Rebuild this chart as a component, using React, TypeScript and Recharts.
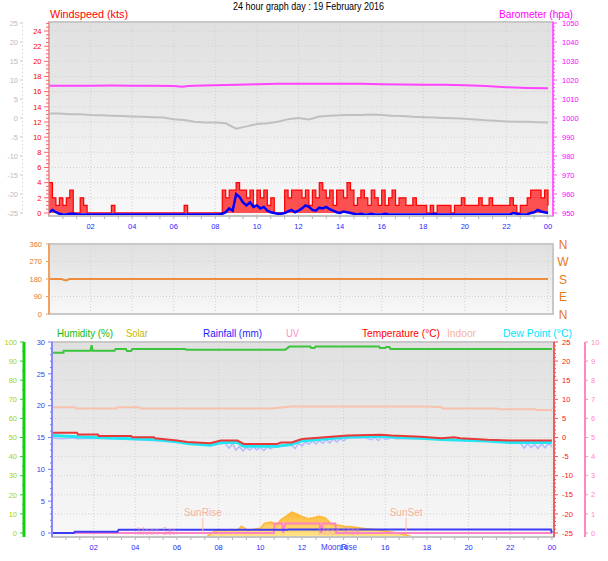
import React from 'react';
import {
	ComposedChart,
	Line,
	Area,
	XAxis,
	YAxis,
	CartesianGrid,
	ReferenceLine,
	ReferenceArea,
} from 'recharts';

const FONT = '"Liberation Sans", Arial, sans-serif';

// hour labels on the time axis (24 is shown as "00")
const HOUR_LABELS = [2, 4, 6, 8, 10, 12, 14, 16, 18, 20, 22, 24];

// ---------- panel 1: windspeed (kts) + barometer (hpa) ----------
// six 10-minute readings per hour, 00:00 .. 23:50
const GUST = [
	[4, 2, 1, 2, 1, 2],
	[3, 0, 0, 2, 1, 0],
	[0, 0, 0, 0, 0, 0],
	[1, 0, 0, 0, 0, 0],
	[0, 0, 0, 0, 0, 0],
	[0, 0, 0, 0, 0, 0],
	[0, 0, 0, 1, 0, 0],
	[0, 0, 0, 0, 0, 0],
	[0, 0, 3, 2, 3, 3],
	[4, 3, 3, 2, 3, 1],
	[3, 2, 3, 1, 2, 0],
	[0, 0, 3, 2, 3, 3],
	[3, 2, 3, 1, 3, 2],
	[4, 3, 2, 3, 1, 3],
	[3, 2, 4, 3, 1, 2],
	[3, 2, 1, 3, 2, 1],
	[3, 1, 2, 3, 1, 2],
	[2, 1, 1, 2, 1, 1],
	[1, 0, 1, 0, 1, 1],
	[1, 1, 0, 1, 1, 2],
	[1, 1, 1, 1, 2, 1],
	[1, 2, 1, 1, 1, 1],
	[1, 2, 1, 0, 1, 1],
	[2, 3, 3, 3, 2, 3],
];
const GUST_LAST = 1;

const WIND_AVG = [
	[0.3, 0.6, 0.3, 0.1, 0, 0],
	[0.1, 0.1, 0, 0, 0, 0],
	[0, 0, 0, 0, 0, 0],
	[0, 0, 0, 0, 0, 0],
	[0, 0, 0, 0, 0, 0],
	[0, 0, 0, 0, 0, 0],
	[0, 0, 0, 0, 0, 0],
	[0, 0, 0, 0, 0, 0],
	[0, 0, 0.1, 0.3, 0.8, 0.5],
	[2.7, 2.3, 1.6, 1.2, 1.6, 1.0],
	[1.2, 0.8, 1.0, 0.5, 0.3, 0.2],
	[0.1, 0.1, 0.2, 0.4, 0.6, 0.3],
	[0.5, 0.8, 1.2, 1.0, 0.6, 0.5],
	[0.9, 0.8, 1.0, 0.7, 0.5, 0.3],
	[0.2, 0.4, 0.3, 0.2, 0.1, 0],
	[0.1, 0, 0, 0.1, 0, 0],
	[0, 0.1, 0, 0, 0, 0],
	[0, 0, 0, 0, 0, 0],
	[0, 0, 0, 0.1, 0, 0],
	[0, 0, 0, 0, 0, 0],
	[0, 0, 0, 0, 0, 0],
	[0, 0, 0, 0, 0, 0],
	[0, 0, 0.2, 0.1, 0, 0],
	[0, 0.2, 0.3, 0.6, 0.4, 0.3],
];
const WIND_AVG_LAST = 0.2;

const BARO_T = [0, 1, 2, 3, 4, 5, 6, 6.4, 6.7, 7, 8, 9, 10, 11, 12, 13, 14, 15, 16, 17, 18, 19, 20, 21, 22, 23, 24];
const BARO = [1017, 1017, 1017, 1017.1, 1017, 1017, 1016.9, 1016.5, 1016.9, 1017, 1017.2, 1017.5, 1017.8, 1018, 1018, 1018, 1018, 1018, 1017.8, 1017.6, 1017.5, 1017.5, 1017.3, 1016.8, 1016.2, 1015.8, 1015.6];

// grey trace on the grey left scale, half-hourly
const TREND = [
	1.2, 1.2, 1.0, 1.0, 0.8, 0.7, 0.6, 0.5, 0.4, 0.3, 0.2, 0.1,
	-0.3, -0.5, -1.0, -1.2, -1.2, -1.4, -2.8, -2.2, -1.6, -1.4, -1.0, -0.3,
	0.0, -0.4, 0.4, 0.6, 0.7, 0.8, 0.8, 0.9, 0.8, 0.6, 0.5, 0.3,
	0.2, 0.1, 0.0, -0.1, -0.2, -0.4, -0.6, -0.7, -0.9, -1.0, -1.0, -1.1, -1.2,
];

// ---------- panel 2: wind direction ----------
const DIR_T = [0, 0.6, 0.8, 1.0, 24];
const DIR = [180, 180, 172, 180, 180];

// ---------- panel 3: humidity, rain, uv, solar, temperatures ----------
const HUM_T = [0, 0.55, 0.56, 1.85, 1.9, 1.95, 3.0, 3.05, 3.55, 3.6, 3.8, 3.85, 6.4, 6.45, 11.2, 11.4, 12.4, 12.45, 12.6, 12.65, 15.7, 15.75, 16.0, 16.05, 16.2, 16.25, 24];
const HUM = [94.4, 94.4, 95.4, 95.4, 98.4, 95.4, 95.4, 96.3, 96.3, 95.3, 95.3, 96.3, 96.3, 96.0, 96.0, 97.6, 97.6, 96.8, 96.8, 97.6, 97.6, 96.8, 96.8, 97.4, 97.4, 96.3, 96.3];

const TEMP_T = [0, 1.2, 1.25, 2.2, 2.25, 3.8, 3.85, 4.9, 4.95, 6.0, 6.5, 7.6, 8.1, 8.9, 9.2, 10.8, 11.0, 11.5, 12.0, 13.1, 14.2, 15.8, 16.3, 17.7, 18.7, 19.3, 19.6, 20.9, 22.0, 24];
const TEMP = [1.25, 1.25, 0.8, 0.8, 0.4, 0.4, 0.05, 0.05, -0.2, -0.8, -1.2, -1.5, -0.8, -0.8, -1.7, -1.7, -1.3, -1.3, -0.4, 0.05, 0.5, 0.7, 0.5, 0.2, -0.2, 0.05, -0.2, -0.6, -0.8, -0.8];

const DEW_T = [0, 1.2, 2.2, 3.8, 4.9, 6.0, 6.5, 7.6, 8.1, 8.9, 9.2, 10.8, 11.5, 12.0, 13.1, 14.2, 15.8, 16.3, 17.7, 18.7, 20.9, 22.0, 24];
const DEW = [0.5, 0.2, 0.0, -0.3, -0.5, -1.1, -1.6, -2.0, -1.3, -1.3, -2.3, -2.3, -1.8, -0.9, -0.4, 0.1, 0.3, 0.1, -0.2, -0.5, -0.9, -1.3, -1.3];

const CHILL_T = [
	0, 0.5, 1.0, 1.2, 2, 4, 6, 7.6, 8.3, 8.5, 8.67, 8.83, 9.0, 9.17, 9.33, 9.5, 9.67, 9.83,
	10.0, 10.17, 10.33, 10.5, 10.67, 10.83, 11.0, 11.5, 11.67, 11.83, 12.0, 12.17, 12.33, 12.5, 12.67, 12.83,
	13.0, 13.17, 13.33, 13.5, 13.67, 13.83, 14.0, 14.2, 15.0, 15.33, 15.5, 15.67, 15.83, 16.0, 16.33, 16.5,
	17.7, 20.9, 22.0, 22.5, 22.67, 22.83, 23.0, 23.17, 23.33, 23.5, 23.67, 23.83, 24,
];
const CHILL = [
	-0.1, -0.3, -0.1, -0.3, -0.2, -0.5, -1.2, -2.1, -1.5, -2.8, -1.6, -3.3, -2.4, -3.5, -2.6, -3.3, -2.5, -3.2,
	-2.6, -3.4, -2.5, -3.0, -2.4, -2.5, -2.2, -2.0, -2.9, -1.5, -2.2, -1.2, -1.8, -0.9, -1.7, -0.8,
	-1.5, -0.6, -1.4, -0.4, -1.2, -0.3, -0.9, -0.1, 0.0, -0.6, 0.0, -0.8, 0.1, -0.5, -0.1, -0.3,
	-0.3, -1.0, -1.4, -1.6, -2.8, -1.6, -2.6, -1.8, -2.9, -1.7, -2.7, -1.6, -2.4,
];

const INDOOR_T = [0, 1.1, 1.15, 3.1, 3.15, 4.2, 4.25, 10.5, 11.5, 17.7, 18.7, 18.75, 21.4, 21.45, 23.2, 23.25, 24];
const INDOOR = [7.9, 7.9, 7.6, 7.6, 7.9, 7.9, 7.6, 7.6, 8.1, 8.1, 8.0, 7.6, 7.6, 7.4, 7.4, 7.2, 7.2];

const RAIN_T = [0, 1.05, 1.1, 3.15, 3.2, 11.3, 11.35, 23.95, 24];
const RAIN = [0, 0, 0.2, 0.2, 0.5, 0.5, 0.55, 0.55, 0];

const UV_T = [0, 10.65, 10.7, 11.05, 11.1, 11.2, 12.85, 12.9, 13.0, 13.6, 13.65, 24];
const UV = [0, 0, 0.5, 0.5, 0, 0.5, 0.5, 0, 0.5, 0.5, 0, 0];

const SOLAR_T = [0, 7.4, 7.6, 7.8, 8.0, 8.3, 8.6, 8.9, 9.1, 9.4, 9.7, 10.0, 10.2, 10.5, 10.8, 11.0, 11.3, 11.5, 11.7, 12.0, 12.3, 12.6, 12.8, 13.1, 13.4, 13.7, 14.0, 14.4, 14.7, 15.1, 15.5, 15.9, 16.3, 16.7, 17.0, 17.3, 24];
const SOLAR = [0, 0, 15, 30, 36, 33, 38, 35, 55, 34, 40, 45, 69, 77, 65, 90, 111, 128, 120, 106, 94, 100, 106, 99, 69, 62, 55, 52, 48, 42, 38, 32, 26, 18, 10, 0, 0];

const SUNRISE = 7.24;
const SUNSET = 17.0;

// ---------- helpers ----------
const zip = (ts: number[], vs: number[]) => ts.map((t, i) => ({ t, v: vs[i] }));
const steps = (from: number, to: number, step: number) => {
	const out: number[] = [];
	const n = Math.round((to - from) / step);
	for (let i = 0; i <= n; i++) out.push(Math.round((from + i * step) * 1000) / 1000);
	return out;
};
const X_TICKS = Array.from({ length: 36 }, (_, k) => ((k + 1) * 2) / 3);

const windData = GUST.flatMap((row, h) =>
	row.map((g, i) => ({ t: h + i / 6, gust: g, avg: WIND_AVG[h][i] }))
).concat([{ t: 24, gust: GUST_LAST, avg: WIND_AVG_LAST }]);
const baroData = zip(BARO_T, BARO);
const trendData = TREND.map((v, i) => ({ t: i / 2, v }));

const xTick = (p: any) => {
	const v = p.payload.value;
	const r = Math.round(v);
	const lab = Math.abs(v - r) < 1e-6 && r % 2 === 0;
	return (
		<g>
			<line x1={p.x} x2={p.x} y1={p.y} y2={p.y + 3} stroke="#b4b4b4" />
			{lab && (
				<text x={p.x} y={p.y + 13} textAnchor="middle" fontSize={7.5} fill="#2828ff" fontFamily={FONT}>
					{String(r % 24).padStart(2, '0')}
				</text>
			)}
		</g>
	);
};

function yTick(axisX: number, side: 'left' | 'right', every: number, color: string, tickColor: string, len = 4, gap = 3) {
	return (p: any) => {
		const v = p.payload.value;
		const major = Math.abs(v / every - Math.round(v / every)) < 1e-6;
		const d = side === 'left' ? -1 : 1;
		return (
			<g>
				<line x1={axisX} x2={axisX + d * (major ? len : len - 2)} y1={p.y} y2={p.y} stroke={tickColor} />
				{major && (
					<text
						x={axisX + d * (len + gap)}
						y={p.y}
						dy={2.7}
						textAnchor={side === 'left' ? 'end' : 'start'}
						fontSize={7.5}
						fill={color}
						fontFamily={FONT}
					>
						{v}
					</text>
				)}
			</g>
		);
	};
}

const GRID = '#d2d2d2';

// axis ids: recharts stacks same-side axes in id order, "a_" sits next to the plot
function WindPanel() {
	return (
		<ComposedChart width={608} height={232} data={windData} margin={{ top: 22, right: 0, bottom: 2, left: 0 }}>
			<CartesianGrid
				yAxisId="a_wind"
				fill="url(#bgTop)"
				stroke={GRID}
				strokeDasharray="1 2"
				horizontalValues={steps(2, 24, 2)}
				verticalValues={HOUR_LABELS}
			/>
			<XAxis
				dataKey="t"
				type="number"
				domain={[0, 24.24]}
				allowDataOverflow
				ticks={X_TICKS}
				interval={0}
				tick={xTick}
				tickLine={false}
				tickSize={0}
				tickMargin={0}
				height={14}
				axisLine={{ stroke: '#c4c4c4', strokeWidth: 2 }}
			/>
			<YAxis
				yAxisId="a_wind"
				type="number"
				domain={[-0.4, 25.19]}
				allowDataOverflow
				ticks={steps(0, 25, 0.5)}
				interval={0}
				width={26}
				tickLine={false}
				tickSize={0}
				tickMargin={0}
				tick={yTick(49, 'left', 2, '#ff0000', '#ff6060', 5, 2.5)}
				axisLine={{ stroke: '#ff8080', strokeWidth: 1 }}
			/>
			<YAxis
				yAxisId="b_grey"
				type="number"
				domain={[-25.79, 25.26]}
				allowDataOverflow
				ticks={steps(-25, 25, 1)}
				interval={0}
				width={23}
				tickLine={false}
				tickSize={0}
				tickMargin={0}
				tick={yTick(23, 'left', 5, '#bcbcbc', '#c4c4c4', 3, 2)}
				axisLine={{ stroke: '#c4c4c4', strokeWidth: 3 }}
			/>
			<YAxis
				yAxisId="a_baro"
				orientation="right"
				type="number"
				domain={[948.42, 1050.53]}
				allowDataOverflow
				ticks={steps(950, 1050, 2)}
				interval={0}
				width={55}
				tickLine={false}
				tickSize={0}
				tickMargin={0}
				tick={yTick(553, 'right', 10, '#ff00ff', '#ff50ff', 4, 5)}
				axisLine={{ stroke: '#ff60ff', strokeWidth: 2 }}
			/>
			<YAxis yAxisId="avg" hide type="number" domain={[-0.2, 25.39]} allowDataOverflow />
			<ReferenceArea yAxisId="a_wind" x1={0} x2={24.24} y1={-0.4} y2={25.19} fill="none" stroke="#c8c8c8" strokeWidth={2} />
			<Area
				yAxisId="a_wind"
				dataKey="gust"
				type="stepAfter"
				stroke="#ff0000"
				strokeWidth={1.2}
				fill="#ff0000"
				fillOpacity={0.68}
				isAnimationActive={false}
				dot={false}
				activeDot={false}
			/>
			<Line yAxisId="b_grey" data={trendData} dataKey="v" type="linear" stroke="#c0c0c0" strokeWidth={2} dot={false} activeDot={false} isAnimationActive={false} />
			<Line yAxisId="a_baro" data={baroData} dataKey="v" type="linear" stroke="#ff44ff" strokeWidth={2} dot={false} activeDot={false} isAnimationActive={false} />
			<Line yAxisId="avg" dataKey="avg" type="linear" stroke="#0000ff" strokeWidth={2.5} dot={false} activeDot={false} isAnimationActive={false} />
		</ComposedChart>
	);
}

function DirectionPanel() {
	return (
		<ComposedChart width={608} height={84} margin={{ top: 8, right: 55, bottom: 6, left: 0 }}>
			<CartesianGrid
				fill="url(#bgMid)"
				stroke={GRID}
				strokeDasharray="1 2"
				horizontalValues={[90, 180, 270]}
				verticalValues={HOUR_LABELS}
			/>
			<XAxis dataKey="t" type="number" domain={[0, 24.24]} allowDataOverflow hide />
			<YAxis
				type="number"
				domain={[0, 360]}
				allowDataOverflow
				ticks={steps(0, 360, 15)}
				interval={0}
				width={49}
				tickLine={false}
				tickSize={0}
				tickMargin={0}
				tick={yTick(49, 'left', 90, '#e07828', '#f0a060', 3, 4)}
				axisLine={{ stroke: '#f0a060', strokeWidth: 2 }}
			/>
			<ReferenceArea x1={0} x2={24.24} y1={0} y2={360} fill="none" stroke="#c8c8c8" strokeWidth={2} />
			<Line data={zip(DIR_T, DIR)} dataKey="v" type="linear" stroke="#ec8c3c" strokeWidth={2} dot={false} activeDot={false} isAnimationActive={false} />
		</ComposedChart>
	);
}

function WeatherPanel() {
	const line = (id: string, ts: number[], vs: number[], color: string, w: number) => (
		<Line
			yAxisId={id}
			data={zip(ts, vs)}
			dataKey="v"
			type="linear"
			stroke={color}
			strokeWidth={w}
			dot={false}
			activeDot={false}
			isAnimationActive={false}
		/>
	);
	return (
		<ComposedChart width={608} height={241} margin={{ top: 22, right: 0, bottom: 10, left: 0 }}>
			<CartesianGrid
				yAxisId="b_hum"
				fill="url(#bgBot)"
				stroke={GRID}
				strokeDasharray="1 2"
				horizontalValues={steps(10, 90, 10)}
				verticalValues={HOUR_LABELS}
			/>
			<XAxis
				dataKey="t"
				type="number"
				domain={[0, 24.1]}
				allowDataOverflow
				ticks={X_TICKS}
				interval={0}
				tick={xTick}
				tickLine={false}
				tickSize={0}
				tickMargin={0}
				height={14}
				axisLine={{ stroke: '#c4c4c4', strokeWidth: 2 }}
			/>
			<YAxis
				yAxisId="a_rain"
				type="number"
				domain={[-0.63, 30]}
				allowDataOverflow
				ticks={steps(0, 30, 1)}
				interval={0}
				width={28}
				tickLine={false}
				tickSize={0}
				tickMargin={0}
				tick={yTick(52, 'left', 5, '#4040e0', '#7878ff', 4, 3)}
				axisLine={{ stroke: '#8888ff', strokeWidth: 2 }}
			/>
			<YAxis
				yAxisId="b_hum"
				type="number"
				domain={[-2.09, 100]}
				allowDataOverflow
				ticks={steps(0, 100, 5)}
				interval={0}
				width={24}
				tickLine={false}
				tickSize={0}
				tickMargin={0}
				tick={yTick(24, 'left', 10, '#a8d400', '#20d020', 4, 3)}
				axisLine={{ stroke: '#10d010', strokeWidth: 3 }}
			/>
			<YAxis
				yAxisId="a_temp"
				orientation="right"
				type="number"
				domain={[-26.05, 25]}
				allowDataOverflow
				ticks={steps(-25, 25, 1)}
				interval={0}
				width={31}
				tickLine={false}
				tickSize={0}
				tickMargin={0}
				tick={yTick(554, 'right', 5, '#ff1010', '#f05050', 4, 4)}
				axisLine={{ stroke: '#f06060', strokeWidth: 2 }}
			/>
			<YAxis
				yAxisId="b_uv"
				orientation="right"
				type="number"
				domain={[-0.21, 10]}
				allowDataOverflow
				ticks={steps(0, 10, 0.5)}
				interval={0}
				width={23}
				tickLine={false}
				tickSize={0}
				tickMargin={0}
				tick={yTick(585, 'right', 1, '#ff88c4', '#ff88c4', 3, 3)}
				axisLine={{ stroke: '#ff88c4', strokeWidth: 2 }}
			/>
			<YAxis yAxisId="solar" hide type="number" domain={[0, 1000]} allowDataOverflow />
			<ReferenceArea yAxisId="a_rain" x1={0} x2={24.1} y1={-0.63} y2={30} fill="none" stroke="#c8c8c8" strokeWidth={2} />
			<Area
				yAxisId="solar"
				data={zip(SOLAR_T, SOLAR)}
				dataKey="v"
				type="linear"
				stroke="#ffb838"
				strokeWidth={1.5}
				fill="url(#solarFill)"
				fillOpacity={1}
				dot={false}
				activeDot={false}
				isAnimationActive={false}
			/>
			{line('a_temp', CHILL_T, CHILL, '#b4baff', 1.5)}
			{line('b_hum', HUM_T, HUM, '#3cc43c', 2)}
			{line('a_temp', INDOOR_T, INDOOR, '#f8c2ac', 2)}
			{line('a_temp', DEW_T, DEW, '#22e6f4', 3)}
			{line('a_temp', TEMP_T, TEMP, '#e83838', 2)}
			{line('b_uv', UV_T, UV, '#ff84c4', 2)}
			{line('a_rain', RAIN_T, RAIN, '#3c3cf4', 2)}
			<ReferenceLine
				yAxisId="a_rain"
				segment={[{ x: SUNRISE, y: 0 }, { x: SUNRISE, y: 2.4 }]}
				stroke="#f8c0a8"
				label={{ value: 'SunRise', position: 'top', offset: 2, fill: '#f6b49c', fontSize: 10, fontFamily: FONT }}
			/>
			<ReferenceLine
				yAxisId="a_rain"
				segment={[{ x: SUNSET, y: 0 }, { x: SUNSET, y: 2.4 }]}
				stroke="#f8c0a8"
				label={{ value: 'SunSet', position: 'top', offset: 2, fill: '#f6b49c', fontSize: 10, fontFamily: FONT }}
			/>
		</ComposedChart>
	);
}

const Txt = ({ x, y, w, c, s = 11, children }: any) => (
	<text x={x} y={y} fill={c} fontSize={s} fontFamily={FONT} textLength={w} lengthAdjust="spacingAndGlyphs">
		{children}
	</text>
);

export default function App() {
	const band = (id: string) => (
		<linearGradient id={id} x1="0" y1="0" x2="0" y2="1">
			<stop offset="0%" stopColor="#e0e0e0" />
			<stop offset="35%" stopColor="#e7e7e7" />
			<stop offset="65%" stopColor="#f0f0f0" />
			<stop offset="100%" stopColor="#f8f8f8" />
		</linearGradient>
	);
	return (
		<div style={{ position: 'absolute', left: 0, top: 0, width: 608, height: 561, background: '#fff', overflow: 'hidden' }}>
			<svg width={0} height={0} style={{ position: 'absolute' }}>
				<defs>
					{band('bgTop')}
					{band('bgMid')}
					{band('bgBot')}
					<linearGradient id="solarFill" x1="0" y1="0" x2="0" y2="1">
						<stop offset="0%" stopColor="#ffb532" />
						<stop offset="100%" stopColor="#ffe68c" />
					</linearGradient>
				</defs>
			</svg>
			<div style={{ position: 'absolute', left: 0, top: 0 }}>
				<WindPanel />
			</div>
			<div style={{ position: 'absolute', left: 0, top: 236 }}>
				<DirectionPanel />
			</div>
			<div style={{ position: 'absolute', left: 0, top: 320 }}>
				<WeatherPanel />
			</div>
			<svg width={608} height={561} style={{ position: 'absolute', left: 0, top: 0, pointerEvents: 'none' }}>
				<Txt x={233} y={10} w={151} c="#000">24 hour graph day : 19 February 2016</Txt>
				<Txt x={50} y={18} w={78} c="#ff0000">Windspeed (kts)</Txt>
				<Txt x={499} y={18} w={74} c="#ff00ff">Barometer (hpa)</Txt>
				{['N', 'W', 'S', 'E', 'N'].map((l, i) => (
					<text key={i} x={563} y={248.5 + i * 17.6} textAnchor="middle" fontSize={12} fill="#e87818" fontFamily={FONT}>
						{l}
					</text>
				))}
				<Txt x={57} y={337} w={56} c="#10b810">Humidity (%)</Txt>
				<Txt x={126} y={337} w={22} c="#c8b800">Solar</Txt>
				<Txt x={203} y={337} w={59} c="#1a1aff">Rainfall (mm)</Txt>
				<Txt x={286} y={337} w={13} c="#ff8ccc">UV</Txt>
				<Txt x={362} y={337} w={78} c="#ff0000">Temperature (°C)</Txt>
				<Txt x={447} y={337} w={29} c="#f4b4a0">Indoor</Txt>
				<Txt x={503} y={337} w={69} c="#00e5ff">Dew Point (°C)</Txt>
				<g opacity={0.55}>
					<Txt x={137} y={535} w={38} c="#f08cb0" s={10}>Moon Set</Txt>
					<Txt x={318} y={535} w={42} c="#f08cb0" s={10}>Moon Rise</Txt>
				</g>
				<Txt x={321} y={550} w={36} c="#3c3cff" s={9}>MoonRise</Txt>
			</svg>
		</div>
	);
}
